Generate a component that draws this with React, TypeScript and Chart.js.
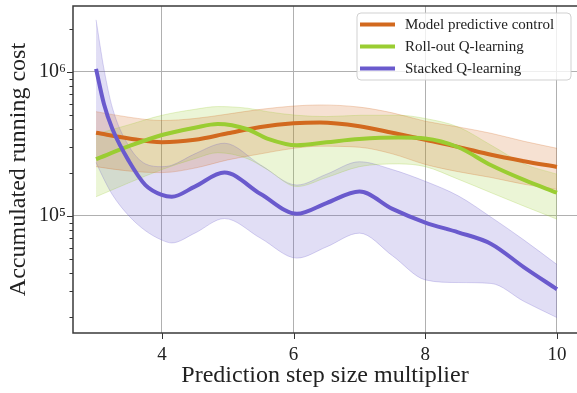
import React, { useEffect, useRef } from 'react';
import { Chart, registerables } from 'chart.js';

Chart.register(...registerables);

// ---------------- data ----------------
const seriesLabels = ['Model predictive control', 'Roll-out Q-learning', 'Stacked Q-learning'];

// Model predictive control
const mpcX = [3, 3.5, 4, 4.5, 5, 5.5, 6, 6.4, 7, 7.5, 8, 8.5, 9, 9.5, 10];
const mpcMean = [3.78e5, 3.45e5, 3.25e5, 3.38e5, 3.75e5, 4.15e5, 4.4e5, 4.46e5, 4.2e5, 3.78e5, 3.38e5, 3.02e5, 2.66e5, 2.4e5, 2.19e5];
const mpcUpper = [5.3e5, 4.85e5, 4.6e5, 4.75e5, 5.1e5, 5.5e5, 5.8e5, 5.9e5, 5.7e5, 5.2e5, 4.55e5, 4.15e5, 3.75e5, 3.3e5, 2.95e5];
const mpcLower = [2.2e5, 2.05e5, 2.0e5, 2.15e5, 2.45e5, 2.7e5, 2.95e5, 3.05e5, 3.0e5, 2.7e5, 2.28e5, 2.03e5, 1.85e5, 1.66e5, 1.53e5];

// Roll-out Q-learning
const rolloutX = [3, 3.5, 4, 4.5, 4.85, 5.3, 5.6, 6.05, 6.5, 7, 7.6, 8, 8.5, 9, 9.5, 10];
const rolloutMean = [2.48e5, 3.05e5, 3.65e5, 4.1e5, 4.35e5, 4.0e5, 3.45e5, 3.1e5, 3.25e5, 3.42e5, 3.5e5, 3.45e5, 3.0e5, 2.25e5, 1.78e5, 1.45e5];
const rolloutUpper = [3.7e5, 4.3e5, 5.0e5, 5.5e5, 5.75e5, 5.6e5, 5.3e5, 5.0e5, 4.9e5, 5.0e5, 5.0e5, 4.75e5, 4.15e5, 3.1e5, 2.3e5, 1.95e5];
const rolloutLower = [1.36e5, 1.7e5, 2.1e5, 2.5e5, 2.75e5, 2.5e5, 2.1e5, 1.6e5, 1.85e5, 2.2e5, 2.3e5, 2.2e5, 1.8e5, 1.45e5, 1.17e5, 9.5e4];

// Stacked Q-learning
const stackedX = [3, 3.12, 3.25, 3.5, 3.75, 4, 4.15, 4.5, 4.95, 5.5, 6.05, 6.5, 7, 7.5, 8, 8.5, 9, 9.5, 10];
const stackedMean = [1.05e6, 6.0e5, 4.0e5, 2.4e5, 1.64e5, 1.4e5, 1.36e5, 1.6e5, 2.0e5, 1.42e5, 1.035e5, 1.23e5, 1.48e5, 1.12e5, 9.0e4, 7.7e4, 6.4e4, 4.4e4, 3.1e4];
const stackedUpper = [2.3e6, 1.05e6, 5.6e5, 3.05e5, 2.3e5, 2.2e5, 2.25e5, 2.7e5, 3.2e5, 2.26e5, 1.64e5, 1.95e5, 2.38e5, 2.1e5, 1.74e5, 1.38e5, 9.8e4, 6.8e4, 4.6e4];
const stackedLower = [2.35e5, 1.8e5, 1.4e5, 1.0e5, 7.9e4, 6.8e4, 6.5e4, 7.6e4, 9.6e4, 7.0e4, 5.1e4, 6.1e4, 7.6e4, 5.3e4, 3.6e4, 3.45e4, 3.4e4, 2.55e4, 1.97e4];

const xTickValues = [4, 6, 8, 10];
const yMajorTickValues = [1e5, 1e6];
const yMinorTickValues = [2e4, 3e4, 4e4, 5e4, 6e4, 7e4, 8e4, 9e4, 2e5, 3e5, 4e5, 5e5, 6e5, 7e5, 8e5, 9e5, 2e6];
const yTickLabels: Record<number, string> = { 100000: '10⁵', 1000000: '10⁶' };

const xAxisTitle = 'Prediction step size multiplier';
const yAxisTitle = 'Accumulated running cost';

// ---------------- styles ----------------
const RGB = [
  [210, 105, 30],
  [154, 205, 50],
  [106, 90, 205],
];
const rgba = (c: number[], a: number) => `rgba(${c[0]},${c[1]},${c[2]},${a})`;
const FONT = '"Liberation Serif", "DejaVu Serif", serif';

const X_MIN = 2.65;
const X_MAX = 10.304;
const Y_MIN = 1.54e4;
const Y_MAX = 2.87e6;

const xy = (xs: number[], ys: number[]) => xs.map((x, i) => ({ x, y: ys[i] }));

const decorPlugin = {
  id: 'decor',
  afterDraw(chart: any) {
    const { ctx, chartArea: ca, scales } = chart;
    const xs = scales.x;
    const ys = scales.y;
    ctx.save();
    // ticks
    ctx.strokeStyle = '#333';
    ctx.lineWidth = 1;
    ctx.beginPath();
    xTickValues.forEach((v) => {
      const px = Math.round(xs.getPixelForValue(v)) + 0.5;
      ctx.moveTo(px, ca.bottom);
      ctx.lineTo(px, ca.bottom + 6);
    });
    yMajorTickValues.forEach((v) => {
      const py = Math.round(ys.getPixelForValue(v)) + 0.5;
      ctx.moveTo(ca.left, py);
      ctx.lineTo(ca.left - 6, py);
    });
    yMinorTickValues.forEach((v) => {
      const py = Math.round(ys.getPixelForValue(v)) + 0.5;
      ctx.moveTo(ca.left, py);
      ctx.lineTo(ca.left - 3.5, py);
    });
    ctx.stroke();
    // spines
    ctx.strokeStyle = '#3a3a3a';
    ctx.lineWidth = 1.5;
    ctx.beginPath();
    ctx.moveTo(ca.right + 2, ca.top);
    ctx.lineTo(ca.left, ca.top);
    ctx.lineTo(ca.left, ca.bottom);
    ctx.lineTo(ca.right + 2, ca.bottom);
    ctx.stroke();

    // legend
    const bx = 357, by = 13, bw = 214, bh = 67, r = 4;
    ctx.beginPath();
    ctx.moveTo(bx + r, by);
    ctx.lineTo(bx + bw - r, by);
    ctx.quadraticCurveTo(bx + bw, by, bx + bw, by + r);
    ctx.lineTo(bx + bw, by + bh - r);
    ctx.quadraticCurveTo(bx + bw, by + bh, bx + bw - r, by + bh);
    ctx.lineTo(bx + r, by + bh);
    ctx.quadraticCurveTo(bx, by + bh, bx, by + bh - r);
    ctx.lineTo(bx, by + r);
    ctx.quadraticCurveTo(bx, by, bx + r, by);
    ctx.closePath();
    ctx.fillStyle = 'rgba(255,255,255,0.8)';
    ctx.fill();
    ctx.strokeStyle = 'rgba(204,204,204,0.9)';
    ctx.lineWidth = 1;
    ctx.stroke();

    ctx.font = `15px ${FONT}`;
    ctx.textBaseline = 'middle';
    ctx.textAlign = 'left';
    seriesLabels.forEach((label, i) => {
      const yy = 24.5 + i * 22;
      ctx.strokeStyle = rgba(RGB[i], 1);
      ctx.lineWidth = 4;
      ctx.beginPath();
      ctx.moveTo(360, yy);
      ctx.lineTo(395, yy);
      ctx.stroke();
      ctx.fillStyle = '#222';
      ctx.fillText(label, 405, yy + 1);
    });
    ctx.restore();
  },
};

export default function App() {
  const canvasRef = useRef<HTMLCanvasElement | null>(null);

  useEffect(() => {
    const canvas = canvasRef.current;
    if (!canvas) return;

    const series = [
      { x: mpcX, mean: mpcMean, up: mpcUpper, lo: mpcLower },
      { x: rolloutX, mean: rolloutMean, up: rolloutUpper, lo: rolloutLower },
      { x: stackedX, mean: stackedMean, up: stackedUpper, lo: stackedLower },
    ];

    const datasets: any[] = [];
    series.forEach((s, i) => {
      datasets.push({
        label: seriesLabels[i],
        data: xy(s.x, s.mean),
        borderColor: rgba(RGB[i], 1),
        borderWidth: 4,
        pointRadius: 0,
        fill: false,
        cubicInterpolationMode: 'monotone',
        borderCapStyle: 'butt',
        order: 2 - i,
      });
    });
    series.forEach((s, i) => {
      const upIdx = datasets.length;
      datasets.push({
        label: seriesLabels[i] + ' upper',
        data: xy(s.x, s.up),
        borderColor: rgba(RGB[i], 0.25),
        borderWidth: 1,
        backgroundColor: rgba(RGB[i], 0.2),
        pointRadius: 0,
        fill: upIdx + 1,
        cubicInterpolationMode: 'monotone',
        order: 10,
      });
      datasets.push({
        label: seriesLabels[i] + ' lower',
        data: xy(s.x, s.lo),
        borderColor: rgba(RGB[i], 0.25),
        borderWidth: 1,
        pointRadius: 0,
        fill: false,
        cubicInterpolationMode: 'monotone',
        order: 10,
      });
    });

    const chart = new Chart(canvas, {
      type: 'line',
      data: { datasets },
      plugins: [decorPlugin],
      options: {
        animation: false,
        responsive: false,
        events: [],
        layout: { padding: { top: 6, right: 0, left: 0, bottom: 0 } },
        plugins: {
          legend: { display: false },
          tooltip: { enabled: false },
          filler: { drawTime: 'beforeDatasetsDraw' },
        },
        scales: {
          x: {
            type: 'linear',
            min: X_MIN,
            max: X_MAX,
            afterBuildTicks: (scale: any) => {
              scale.ticks = xTickValues.map((v) => ({ value: v }));
            },
            afterFit: (scale: any) => {
              scale.height = 60;
              scale.paddingLeft = 0;
              scale.paddingRight = 0;
            },
            border: { display: false },
            grid: { color: '#b0b0b0', lineWidth: 1, drawTicks: false },
            ticks: {
              padding: 11,
              color: '#222',
              font: { family: FONT, size: 19 },
              callback: (v: any) => String(v),
              maxRotation: 0,
              autoSkip: false,
            },
            title: {
              display: true,
              text: xAxisTitle,
              color: '#222',
              font: { family: FONT, size: 24 },
              padding: { top: 0, bottom: 3 },
            },
          },
          y: {
            type: 'logarithmic',
            min: Y_MIN,
            max: Y_MAX,
            afterBuildTicks: (scale: any) => {
              scale.ticks = yMajorTickValues.map((v) => ({ value: v, major: true }));
            },
            afterFit: (scale: any) => {
              scale.width = 73;
              scale.paddingTop = 0;
              scale.paddingBottom = 0;
            },
            border: { display: false },
            grid: { color: '#b0b0b0', lineWidth: 1, drawTicks: false },
            ticks: {
              padding: 7,
              color: '#222',
              font: { family: FONT, size: 20 },
              callback: (v: any) => yTickLabels[Number(v)] ?? '',
              autoSkip: false,
            },
            title: {
              display: true,
              text: yAxisTitle,
              color: '#222',
              font: { family: FONT, size: 24 },
              padding: { top: 4, bottom: 0 },
            },
          },
        },
      } as any,
    });

    return () => chart.destroy();
  }, []);

  return (
    <div style={{ position: 'absolute', left: 0, top: 0, width: 577, height: 393, background: '#fff' }}>
      <canvas ref={canvasRef} width={577} height={393} style={{ display: 'block' }} />
    </div>
  );
}
